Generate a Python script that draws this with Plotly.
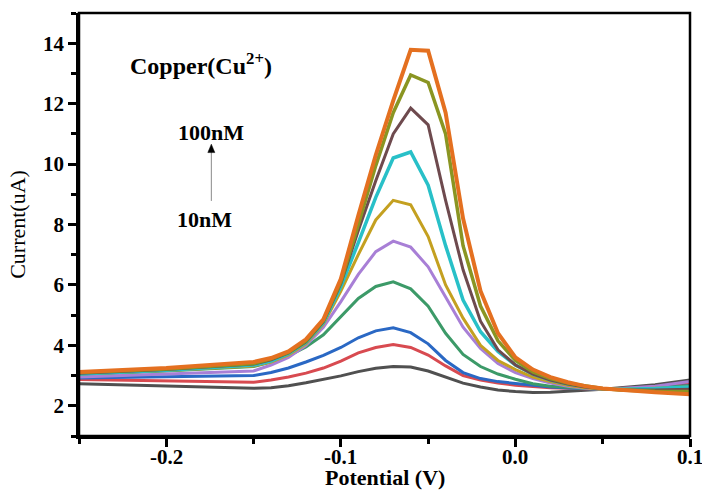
import plotly.graph_objects as go

potential = [-0.25, -0.20, -0.15, -0.14, -0.13, -0.12, -0.11, -0.10, -0.09, -0.08, -0.07, -0.06, -0.05,
             -0.04, -0.03, -0.02, -0.01, 0.00, 0.01, 0.02, 0.03, 0.04, 0.05, 0.06, 0.08, 0.10]

c10nM = [2.73, 2.65, 2.58, 2.60, 2.66, 2.76, 2.87, 2.99, 3.13, 3.24, 3.30, 3.28, 3.15,
         2.95, 2.75, 2.62, 2.52, 2.47, 2.44, 2.45, 2.48, 2.51, 2.55, 2.60, 2.70, 2.85]
c20nM = [2.87, 2.82, 2.78, 2.85, 2.95, 3.08, 3.25, 3.48, 3.75, 3.93, 4.03, 3.93, 3.68,
         3.32, 3.00, 2.85, 2.75, 2.68, 2.63, 2.60, 2.58, 2.56, 2.55, 2.57, 2.62, 2.72]
c30nM = [2.92, 2.95, 3.00, 3.10, 3.25, 3.45, 3.67, 3.93, 4.25, 4.48, 4.58, 4.42, 4.05,
         3.50, 3.10, 2.90, 2.80, 2.74, 2.67, 2.62, 2.59, 2.57, 2.55, 2.56, 2.60, 2.66]
c40nM = [3.03, 3.15, 3.30, 3.45, 3.65, 3.95, 4.35, 4.95, 5.55, 5.95, 6.10, 5.87, 5.30,
         4.40, 3.70, 3.30, 3.05, 2.88, 2.73, 2.65, 2.60, 2.57, 2.55, 2.56, 2.60, 2.66]
c50nM = [2.95, 3.05, 3.15, 3.35, 3.60, 4.00, 4.60, 5.45, 6.35, 7.10, 7.45, 7.25, 6.60,
         5.60, 4.60, 3.90, 3.40, 3.10, 2.90, 2.75, 2.65, 2.58, 2.55, 2.57, 2.65, 2.80]
c60nM = [3.05, 3.17, 3.32, 3.45, 3.68, 4.05, 4.70, 5.80, 7.00, 8.15, 8.80, 8.65, 7.60,
         6.00, 4.90, 4.00, 3.50, 3.20, 2.95, 2.80, 2.68, 2.60, 2.55, 2.55, 2.58, 2.62]
c70nM = [3.05, 3.18, 3.35, 3.48, 3.72, 4.10, 4.75, 5.95, 7.40, 8.90, 10.20, 10.40, 9.30,
         7.30, 5.50, 4.45, 3.80, 3.35, 3.05, 2.85, 2.72, 2.63, 2.56, 2.55, 2.57, 2.62]
c80nM = [3.08, 3.20, 3.38, 3.52, 3.75, 4.12, 4.78, 6.05, 7.80, 9.45, 11.00, 11.85, 11.30,
         8.80, 6.50, 4.80, 3.85, 3.35, 3.05, 2.85, 2.72, 2.62, 2.56, 2.53, 2.52, 2.55]
c90nM = [3.10, 3.22, 3.40, 3.55, 3.77, 4.15, 4.82, 6.10, 8.00, 9.95, 11.70, 12.95, 12.70,
         11.00, 7.30, 5.30, 4.15, 3.50, 3.12, 2.90, 2.75, 2.65, 2.57, 2.52, 2.48, 2.47]
c100nM = [3.12, 3.25, 3.45, 3.58, 3.80, 4.20, 4.86, 6.20, 8.30, 10.30, 12.10, 13.78, 13.75,
          11.70, 8.20, 5.80, 4.40, 3.60, 3.20, 2.95, 2.78, 2.65, 2.57, 2.52, 2.45, 2.38]

series_names = ["10nM", "20nM", "30nM", "40nM", "50nM", "60nM", "70nM", "80nM", "90nM", "100nM"]
series_values = [c10nM, c20nM, c30nM, c40nM, c50nM, c60nM, c70nM, c80nM, c90nM, c100nM]
series_colors = ["#505050", "#d84a50", "#2a68c4", "#3c9a68", "#a87fd6", "#c4a020",
                 "#28c0c8", "#6e4a4e", "#8a9522", "#e47020"]
series_widths = [3, 3, 3, 3, 3, 3, 3.5, 3, 3.5, 4]

x_tickvals = [-0.2, -0.1, 0.0, 0.1]
x_ticktext = ["-0.2", "-0.1", "0.0", "0.1"]
y_tickvals = [2, 4, 6, 8, 10, 12, 14]
x_title = "Potential (V)"
y_title = "Current(uA)"

FONT = "Liberation Serif, Times New Roman, serif"
TICKFONT = dict(family=FONT, size=21, color="black", weight="bold")

fig = go.Figure()
for name, vals, col, w in zip(series_names, series_values, series_colors, series_widths):
    fig.add_trace(go.Scatter(x=potential, y=vals, mode="lines", name=name,
                             line=dict(color=col, width=w), showlegend=False))

axis_common = dict(
    showline=True, linecolor="black", linewidth=2.5, mirror=False,
    ticks="outside", ticklen=8, tickwidth=2.5, tickcolor="black",
    showgrid=False, zeroline=False, ticklabeloverflow="allow", automargin=False,
    tickfont=TICKFONT,
)

# x tick labels and title are placed as annotations (closer to the axis than plotly's default)
fig.update_xaxes(range=[-0.25, 0.1], tickvals=x_tickvals, showticklabels=False,
                 minor=dict(dtick=0.05, tick0=0, ticks="outside", ticklen=5, tickwidth=2.5, tickcolor="black"),
                 **axis_common)
for v, t in zip(x_tickvals, x_ticktext):
    fig.add_annotation(x=v, y=0, xref="x", yref="paper", text=t, showarrow=False,
                       yanchor="top", yshift=-7, font=TICKFONT)
fig.add_annotation(x=0.5, y=0, xref="paper", yref="paper", text=x_title, showarrow=False,
                   yanchor="top", yshift=-27,
                   font=dict(family=FONT, size=22, color="black", weight="bold"))

fig.update_yaxes(range=[1, 15], tickvals=y_tickvals,
                 minor=dict(dtick=1, tick0=1, ticks="outside", ticklen=5, tickwidth=2.5, tickcolor="black"),
                 title=dict(text=y_title, standoff=12,
                            font=dict(family=FONT, size=22, color="black")),
                 **axis_common)

# plot frame (top and right edges without ticks)
fig.add_shape(type="rect", xref="paper", yref="paper", x0=0, x1=1, y0=0, y1=1,
              line=dict(color="black", width=2.5), fillcolor="rgba(0,0,0,0)", layer="above")

fig.add_annotation(x=-0.1799, y=13.30, xref="x", yref="y", showarrow=False,
                   text="Copper(Cu<sup>2+</sup>)",
                   font=dict(family=FONT, size=24, color="black", weight="bold"))
fig.add_annotation(x=-0.1742, y=11.03, xref="x", yref="y", showarrow=False, text="100nM",
                   font=dict(family=FONT, size=22, color="black", weight="bold"))
fig.add_annotation(x=-0.178, y=8.15, xref="x", yref="y", showarrow=False, text="10nM",
                   font=dict(family=FONT, size=22, color="black", weight="bold"))
# arrow: thin grey shaft with small black head
fig.add_shape(type="line", xref="x", yref="y", x0=-0.1742, x1=-0.1742, y0=8.78, y1=10.45,
              line=dict(color="#8a8a8a", width=1))
fig.add_shape(type="path", xref="x", yref="y",
              path="M -0.1762 10.38 L -0.1742 10.66 L -0.1722 10.38 Z",
              fillcolor="black", line=dict(color="black", width=0.5))

fig.update_layout(width=702, height=490, margin=dict(l=79, r=12, t=13, b=54),
                  paper_bgcolor="white", plot_bgcolor="white")

fig.write_html("out.html")
